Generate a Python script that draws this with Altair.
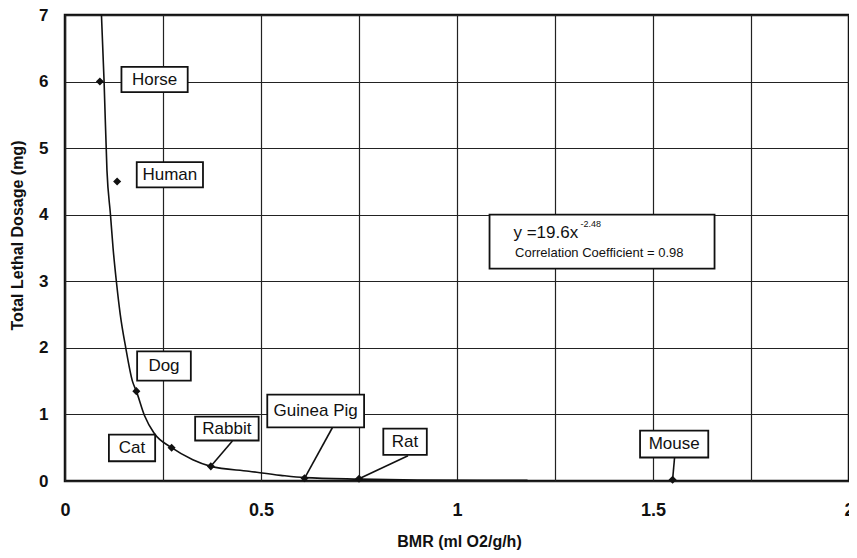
import altair as alt
import pandas as pd

# ---- data ----
animals = ["Horse", "Human", "Dog", "Cat", "Rabbit", "Guinea Pig", "Rat", "Mouse"]
bmr = [0.089, 0.133, 0.182, 0.272, 0.372, 0.611, 0.75, 1.55]
dose = [6.0, 4.5, 1.35, 0.50, 0.22, 0.04, 0.035, 0.02]

# label boxes (data units)
lab_x0 = [0.144, 0.183, 0.184, 0.112, 0.332, 0.516, 0.812, 1.467]
lab_x1 = [0.313, 0.352, 0.321, 0.230, 0.494, 0.763, 0.923, 1.641]
lab_y0 = [5.84, 4.41, 1.508, 0.297, 0.608, 0.807, 0.393, 0.353]
lab_y1 = [6.22, 4.79, 1.948, 0.698, 0.968, 1.298, 0.788, 0.758]

# leader lines (from label box to point)
lead_names = ["Rabbit", "Guinea Pig", "Rat", "Mouse"]
lead_x = [0.427, 0.682, 0.875, 1.555]
lead_y = [0.60, 0.80, 0.38, 0.35]

# fitted curve
curve_x = [0.093, 0.0997, 0.107, 0.116, 0.1226, 0.131, 0.141, 0.155, 0.172,
           0.182, 0.203, 0.227, 0.272, 0.326, 0.372, 0.469, 0.55, 0.611,
           0.75, 0.9, 1.18]
curve_y = [7.0, 6.0, 4.67, 4.0, 3.5, 3.0, 2.5, 2.0, 1.5,
           1.35, 0.98, 0.72, 0.50, 0.32, 0.22, 0.147, 0.085, 0.05,
           0.028, 0.016, 0.01]

x_ticks = [0, 0.25, 0.5, 0.75, 1, 1.25, 1.5, 1.75, 2]
y_ticks = [0, 0.5, 1, 1.5, 2, 2.5, 3, 3.5, 4, 4.5, 5, 5.5, 6, 6.5, 7]

eq_box = {"x0": 1.083, "x1": 1.657, "y0": 3.19, "y1": 4.00}
eq_main = "y =19.6x"
eq_sup = "-2.48"
eq_corr = "Correlation Coefficient = 0.98"

FONT = "Liberation Sans, Arial, sans-serif"
INK = "#111"

pts = pd.DataFrame({"animal": animals, "bmr": bmr, "dose": dose})
labs = pd.DataFrame({"animal": animals, "x0": lab_x0, "x1": lab_x1,
                     "y0": lab_y0, "y1": lab_y1})
labs["xc"] = (labs.x0 + labs.x1) / 2
labs["yc"] = (labs.y0 + labs.y1) / 2
lead = pd.DataFrame({"animal": lead_names, "lx": lead_x, "ly": lead_y})
lead = lead.merge(pts, on="animal")
curve = pd.DataFrame({"x": curve_x, "y": curve_y})

xs = alt.Scale(domain=[0, 2], nice=False, zero=False)
ys = alt.Scale(domain=[0, 7], nice=False, zero=False)

xaxis = alt.Axis(values=x_ticks, format="~g",
                 labelExpr="datum.value % 0.5 == 0 ? datum.label : ''",
                 grid=True, gridColor="#222", gridWidth=1.2, ticks=False,
                 labelFont=FONT, labelFontSize=18, labelFontWeight="bold",
                 labelColor=INK, labelPadding=20, labelFlush=False,
                 domain=False,
                 title="BMR (ml O2/g/h)", titleFont=FONT, titleFontSize=16,
                 titleFontWeight="bold", titleColor=INK,
                 titleX=394, titleY=60, titleBaseline="middle", titleAnchor="middle")
yaxis = alt.Axis(values=y_ticks, format="~g",
                 labelExpr="datum.value % 1 == 0 ? datum.label : ''",
                 grid=True, gridColor="#222", gridWidth=1.2, ticks=False,
                 labelFont=FONT, labelFontSize=17, labelFontWeight="bold",
                 labelColor=INK, labelPadding=17, labelFlush=False,
                 domain=False,
                 title="Total Lethal Dosage (mg)", titleFont=FONT, titleFontSize=16,
                 titleFontWeight="bold", titleColor=INK,
                 titleX=-48, titleY=220, titleAngle=270, titleBaseline="middle",
                 titleAlign="center")

line = alt.Chart(curve).mark_line(color=INK, strokeWidth=1.6, interpolate="monotone").encode(
    x=alt.X("x:Q", scale=xs, axis=xaxis),
    y=alt.Y("y:Q", scale=ys, axis=yaxis),
)

leaders = alt.Chart(lead).mark_rule(color=INK, strokeWidth=1.6).encode(
    x="lx:Q", y="ly:Q", x2="bmr:Q", y2="dose:Q")

markers = alt.Chart(pts).mark_point(shape="diamond", filled=True, color=INK,
                                    size=65, opacity=1).encode(
    x="bmr:Q", y="dose:Q")

boxes = alt.Chart(labs).mark_rect(fill="white", stroke=INK, strokeWidth=1.8).encode(
    x="x0:Q", x2="x1:Q", y="y0:Q", y2="y1:Q")

texts = alt.Chart(labs).mark_text(font=FONT, fontSize=17, color=INK,
                                  baseline="middle", align="center").encode(
    x="xc:Q", y="yc:Q", text="animal:N")

eq_df = pd.DataFrame([eq_box])
eqbox = alt.Chart(eq_df).mark_rect(fill="white", stroke=INK, strokeWidth=1.8).encode(
    x="x0:Q", x2="x1:Q", y="y0:Q", y2="y1:Q")

eq_txt = pd.DataFrame({
    "x": [1.144, 1.315, 1.148],
    "y": [3.725, 3.86, 3.42],
    "t": [eq_main, eq_sup, eq_corr],
    "s": ["main", "sup", "corr"],
})
eq_main_mark = alt.Chart(eq_txt[eq_txt.s == "main"]).mark_text(
    font=FONT, fontSize=17, color=INK, align="left", baseline="middle").encode(
    x="x:Q", y="y:Q", text="t:N")
eq_sup_mark = alt.Chart(eq_txt[eq_txt.s == "sup"]).mark_text(
    font=FONT, fontSize=9, color=INK, align="left", baseline="middle").encode(
    x="x:Q", y="y:Q", text="t:N")
eq_corr_mark = alt.Chart(eq_txt[eq_txt.s == "corr"]).mark_text(
    font=FONT, fontSize=13, color=INK, align="left", baseline="middle").encode(
    x="x:Q", y="y:Q", text="t:N")

chart = alt.layer(line, leaders, markers, boxes, texts, eqbox,
                  eq_main_mark, eq_sup_mark, eq_corr_mark).properties(
    width=784, height=466,
    autosize=alt.AutoSizeParams(type="none"),
    padding={"left": 57, "top": 7, "right": 0, "bottom": 69},
    background="white",
).configure_view(stroke=INK, strokeWidth=2.5)

chart.save("out.html", embed_options={"renderer": "svg", "actions": False})
